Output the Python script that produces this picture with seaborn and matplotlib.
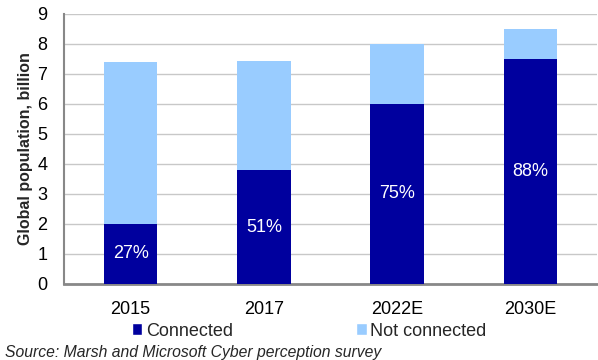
import matplotlib
matplotlib.use("Agg")
import matplotlib.pyplot as plt
import seaborn as sns
import pandas as pd
from matplotlib.patches import Patch

years = ["2015", "2017", "2022E", "2030E"]
connected = [2.0, 3.8, 6.0, 7.5]
total = [7.4, 7.45, 8.0, 8.5]
share_labels = ["27%", "51%", "75%", "88%"]

dark = "#00009E"
light = "#99CCFF"

sns.set_theme(style="white")
plt.rcParams["font.family"] = ["Liberation Sans", "DejaVu Sans"]

df = pd.DataFrame({"year": years, "connected": connected, "total": total})

fig = plt.figure(figsize=(5.98, 3.60), dpi=100)
ax = fig.add_axes([64 / 598, 1 - 284 / 360, 533 / 598, 270 / 360])

# total height in light blue, connected portion drawn over it
sns.barplot(data=df, x="year", y="total", color=light, width=0.4,
            saturation=1, linewidth=0, ax=ax, zorder=2)
sns.barplot(data=df, x="year", y="connected", color=dark, width=0.4,
            saturation=1, linewidth=0, ax=ax, zorder=3)

for i, (c, lab) in enumerate(zip(connected, share_labels)):
    ax.text(i, c / 2, lab, ha="center", va="center", color="white",
            fontsize=13, zorder=4)

ax.set_ylim(0, 9)
ax.set_xlim(-0.5, 3.5)
ax.set_yticks(range(0, 10))
ax.yaxis.grid(True, color="#C8C8C8", linewidth=1, zorder=0)
ax.set_axisbelow(True)
ax.tick_params(axis="both", length=0, labelsize=13, colors="black")
ax.tick_params(axis="x", pad=12)
ax.tick_params(axis="y", pad=12)
ax.set_xlabel("")
ax.set_ylabel("Global population, billion", fontsize=11.5, fontweight="bold",
              labelpad=3)

for side in ["top", "right"]:
    ax.spines[side].set_visible(False)
ax.spines["left"].set_color("#888888")
ax.spines["left"].set_linewidth(1.5)
ax.spines["bottom"].set_color("#888888")
ax.spines["bottom"].set_linewidth(2)

handles = [Patch(facecolor=dark, label="Connected"),
           Patch(facecolor=light, label="Not connected")]
fig.legend(handles=handles, loc="center", bbox_to_anchor=(309 / 598, 1 - 331 / 360),
           ncol=2, frameon=False, fontsize=13, handlelength=0.6,
           handleheight=0.6, handletextpad=0.2, columnspacing=6.8)

fig.text(5 / 598, 1 - 352 / 360, "Source: Marsh and Microsoft Cyber perception survey",
         fontsize=11.3, style="italic", ha="left", va="center")

fig.savefig("out.png", dpi=100)
